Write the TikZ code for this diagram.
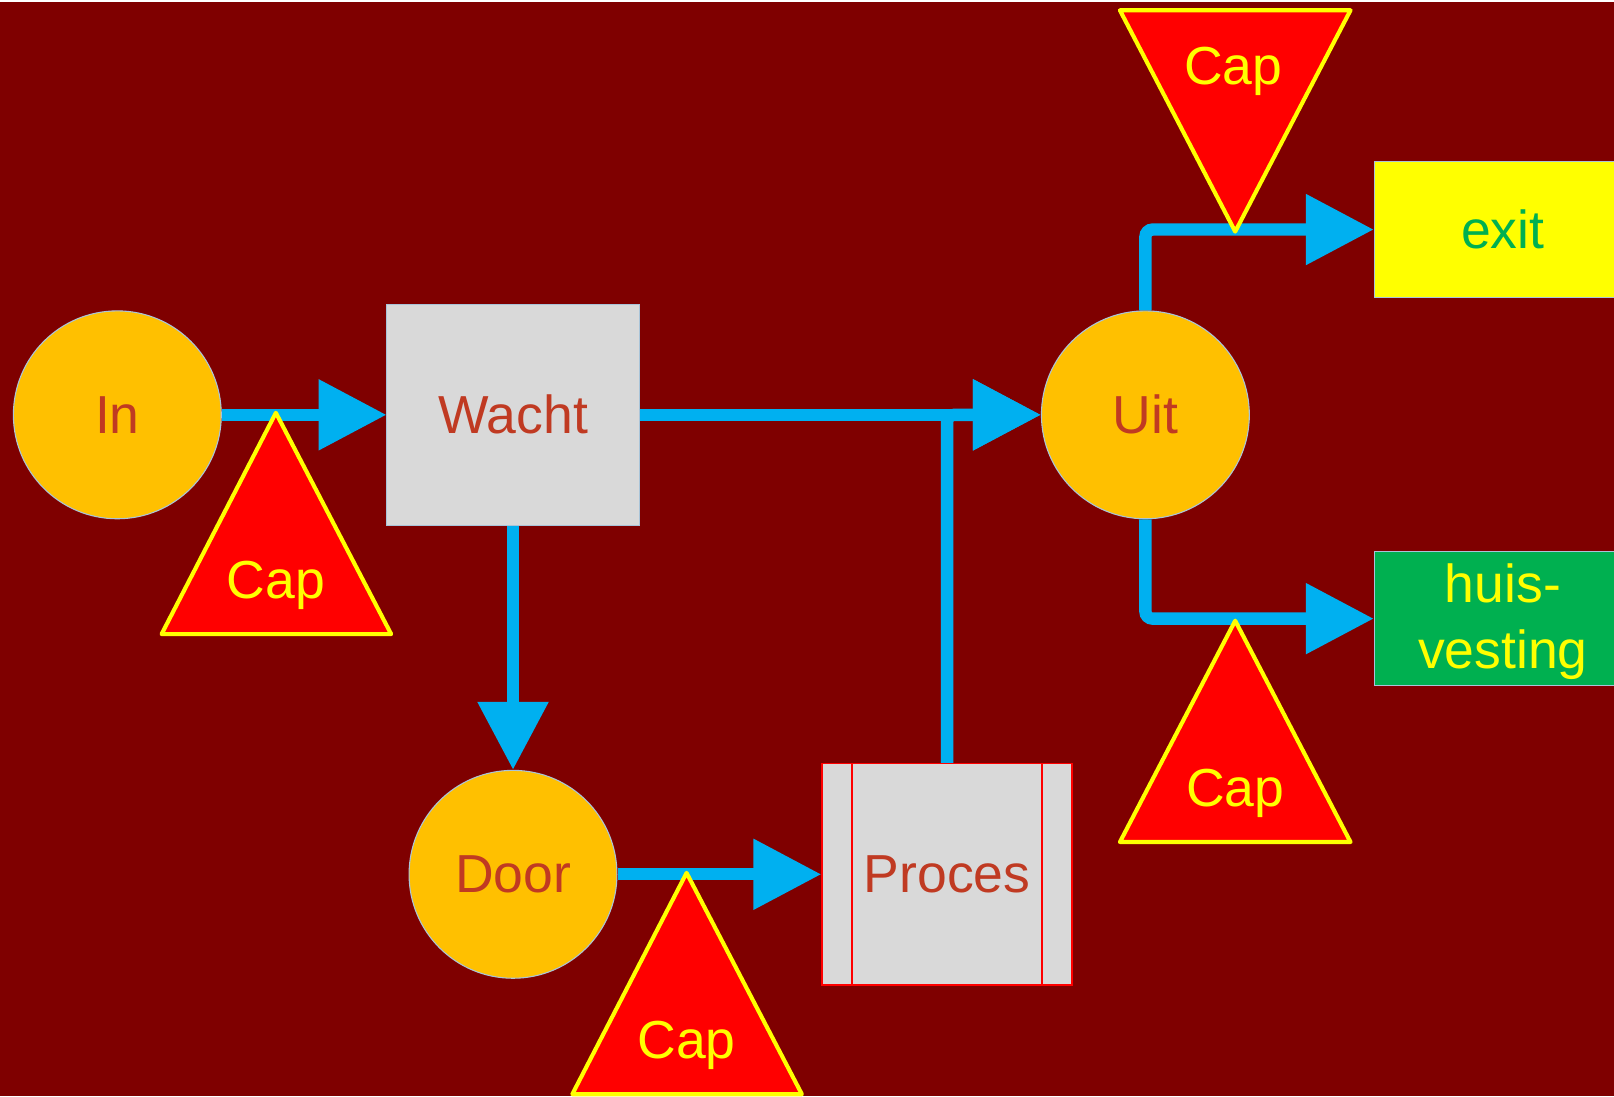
\documentclass[tikz,border=0pt]{standalone}
\usepackage{fontspec}
\setmainfont{Liberation Sans}
\usepackage{tikz}
\usetikzlibrary{arrows.meta,positioning}
\newcommand{\bigfont}{\fontsize{29.6}{37}\selectfont}
\definecolor{bgmaroon}{HTML}{7F0000}
\definecolor{flowblue}{HTML}{00B0F0}
\definecolor{poolgold}{HTML}{FFC000}
\definecolor{boxgrey}{HTML}{D9D9D9}
\definecolor{edgegrey}{HTML}{A9C4D9}
\definecolor{labelred}{HTML}{C03A22}
\definecolor{capred}{HTML}{FF0000}
\definecolor{capyellow}{HTML}{FFFF00}
\definecolor{exitgreen}{HTML}{00B050}
\tikzset{
  pool/.style={circle, draw=edgegrey, line width=0.6pt, fill=poolgold, minimum size=4.04cm, inner sep=0pt, text=labelred, font=\bigfont},
  queue/.style={rectangle, draw=edgegrey, line width=0.5pt, fill=boxgrey, minimum width=4.9cm, minimum height=4.3cm, inner sep=0pt, text=labelred, font=\bigfont},
  procbox/.style={rectangle, draw=capred, line width=0.03cm, fill=boxgrey, minimum width=4.86cm, minimum height=4.3cm, inner sep=0pt, text=labelred, font=\bigfont},
  procline/.style={draw=capred, line width=0.03cm},
  exitbox/.style={rectangle, draw=edgegrey, line width=0.5pt, fill=capyellow, minimum width=5cm, minimum height=2.64cm, inner sep=0pt, text=exitgreen, font=\bigfont},
  housebox/.style={rectangle, draw=edgegrey, line width=0.5pt, fill=exitgreen, minimum width=5cm, minimum height=2.6cm, inner sep=0pt, text=capyellow, font=\bigfont, align=center, text depth=0.1cm},
  flow/.style={-{Triangle[length=1.32cm, width=1.32cm]}, line width=0.24cm, draw=flowblue, rounded corners=4pt},
  captri/.style={draw=capyellow, fill=capred, line width=0.08cm, line join=round},
  caplabel/.style={text=capyellow, font=\bigfont, inner sep=0pt}
}

\begin{document}
\begin{tikzpicture}[x=0.02cm, y=-0.02cm]
  \useasboundingbox (0,0) rectangle (1568,1065);
  \clip (0,0) rectangle (1568,1065);
  \fill[white] (0,0) rectangle (1568,2);
  \fill[bgmaroon] (0,2) rectangle (1568,1065);

  % stations
  \node[pool] (in) at (114,403) {In};
  \node[queue, right=3.2cm of in] (wacht) {Wacht};
  \node[pool, right=7.8cm of wacht] (uit) {Uit};
  \node[pool, below=4.74cm of wacht] (door) {Door};
  \node[procbox, right=3.96cm of door] (proces) {Proces};
  \draw[procline] ([xshift=0.6cm]proces.north west) -- ([xshift=0.6cm]proces.south west);
  \draw[procline] ([xshift=-0.6cm]proces.north east) -- ([xshift=-0.6cm]proces.south east);
  \node[exitbox] (exit) at (1460,223) {exit};
  \node[housebox] (huis) at (1460,601) {huis-\\vesting};

  % flows
  \draw[flow] (in) -- (wacht);
  \draw[flow] (wacht) -- (door);
  \draw[flow] (door) -- (proces);
  \draw[flow] (proces.north) |- (uit.west);
  \draw[flow] (wacht.east) -- (uit.west);
  \draw[flow] (uit.north) |- (exit.west);
  \draw[flow] (uit.south) |- (huis.west);

  % capacity limits
  \draw[captri] (268,401) -- (380,616) -- (157,616) -- cycle;
  \node[caplabel] (capin) at (268,569) {Cap};
  \draw[captri] (667,848) -- (779,1063) -- (556,1063) -- cycle;
  \node[caplabel] (capdoor) at (667,1016) {Cap};
  \draw[captri] (1200,225) -- (1312,10) -- (1088,10) -- cycle;
  \node[caplabel] (capexit) at (1198,69) {Cap};
  \draw[captri] (1200,603) -- (1312,818) -- (1088,818) -- cycle;
  \node[caplabel] (caphuis) at (1200,771) {Cap};
\end{tikzpicture}
\end{document}
